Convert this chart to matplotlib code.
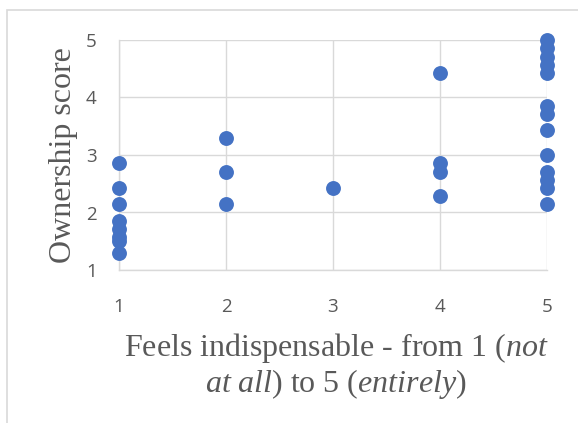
import matplotlib
matplotlib.use("Agg")
import matplotlib.pyplot as plt
from matplotlib.patches import Rectangle

# ---------------------------------------------------------------------------
# Data
# ---------------------------------------------------------------------------

X_VALUES = [1] * 8 + [2] * 3 + [3] + [4] * 4 + [5] * 13
Y_VALUES = [
    2.86, 2.43, 2.14, 1.86, 1.71, 1.57, 1.50, 1.29,          # x = 1
    3.29, 2.71, 2.14,                                        # x = 2
    2.43,                                                    # x = 3
    4.43, 2.86, 2.71, 2.29,                                  # x = 4
    5.00, 4.86, 4.71, 4.57, 4.43, 3.86, 3.71, 3.43,
    3.00, 2.71, 2.57, 2.43, 2.14,                            # x = 5
]
X_TICKS = [1, 2, 3, 4, 5]
Y_TICKS = [1, 2, 3, 4, 5]

X_LABEL = (r"Feels indispensable - from 1 ($\mathit{not}$" "\n"
           r"$\mathit{at\ all}$) to 5 ($\mathit{entirely}$)")
Y_LABEL = "Ownership score"

# ---------------------------------------------------------------------------
# Style
# ---------------------------------------------------------------------------

BLUE  = "#4472C4"
GRID  = "#D9D9D9"
TEXT  = "#595959"
W, H  = 578, 423
DPI   = 100

plt.rcParams["mathtext.fontset"] = "custom"
plt.rcParams["mathtext.rm"] = "Liberation Serif"
plt.rcParams["mathtext.it"] = "Liberation Serif:italic"

fig = plt.figure(figsize=(W / DPI, H / DPI), dpi=DPI)
ax = fig.add_axes([119 / W, 1 - 270 / H, (547 - 119) / W, (270 - 40) / H])

ax.scatter(X_VALUES, Y_VALUES, s=115, color=BLUE, linewidths=0, zorder=3,
           clip_on=False)

ax.set_xlim(1, 5)
ax.set_ylim(1, 5)
ax.set_xticks(X_TICKS)
ax.set_yticks(Y_TICKS)
ax.grid(True, color=GRID, linewidth=1.0)
ax.set_axisbelow(True)

for side in ["top", "right"]:
    ax.spines[side].set_visible(False)
for side in ["left", "bottom"]:
    ax.spines[side].set_color(GRID)
    ax.spines[side].set_linewidth(1.0)

ax.tick_params(length=0, labelsize=13.5, labelcolor=TEXT)
ax.tick_params(axis="x", pad=20)
ax.tick_params(axis="y", pad=16)
for lbl in ax.get_xticklabels() + ax.get_yticklabels():
    lbl.set_fontfamily("Open Sans")

ax.set_ylabel(Y_LABEL, family="Liberation Serif", fontsize=23, color=TEXT,
              labelpad=6)
fig.text(336 / W, 1 - 366 / H, X_LABEL, family="Liberation Serif",
         fontsize=23, color=TEXT, ha="center", va="center",
         linespacing=1.05)

# chart border (extends past right/bottom edge like the reference)
fig.patches.append(Rectangle((7 / W, -0.05), 1.1, 1 - 10 / H + 0.05,
                             transform=fig.transFigure, fill=False,
                             edgecolor=GRID, linewidth=1.2))

fig.savefig("out.png", dpi=DPI)
